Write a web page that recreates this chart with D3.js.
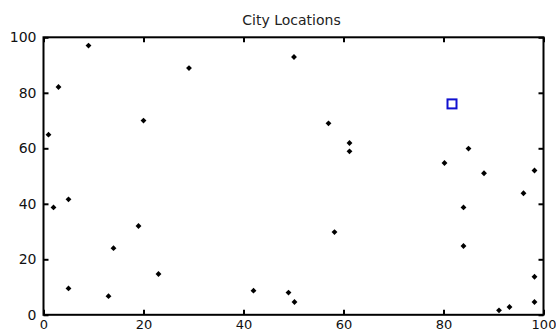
<!DOCTYPE html>
<html>
<head>
<meta charset="utf-8">
<script src="https://cdn.jsdelivr.net/npm/d3@7"></script>
<style>
  body { margin: 0; background: #fff; }
  text { font-family: "DejaVu Sans", sans-serif; }
</style>
</head>
<body>
<svg class="svg_cities" width="556" height="335"></svg>
<script>
// city coordinates
var cityX = [9, 3, 1, 20, 29.1, 50.1, 57, 61.2, 61.2, 80.2, 85, 98.2, 96, 88.1,
             84, 84, 58.2, 2, 5, 19, 14, 23, 5, 13, 42, 49, 50.2, 91.1, 93.2, 98.2, 98.2];
var cityY = [97, 82.1, 64.9, 70, 88.9, 92.9, 69, 61.9, 58.9, 54.7, 59.9, 52, 43.8, 51,
             38.7, 24.8, 29.8, 38.7, 41.6, 32, 24, 14.7, 9.5, 6.7, 8.7, 8, 4.6, 1.6, 2.8, 13.7, 4.6];
var startX = [81.7];
var startY = [76];
var tickVals = [0, 20, 40, 60, 80, 100];

var svg = d3.select(".svg_cities"),
    margin = {top: 37.3, right: 12.5, bottom: 20.2, left: 43.5},
    width = +svg.attr("width") - margin.left - margin.right,
    height = +svg.attr("height") - margin.top - margin.bottom,
    g = svg.append("g").attr("transform", "translate(" + margin.left + "," + margin.top + ")");

var x = d3.scaleLinear().domain([0, 100]).range([0, width]);
var y = d3.scaleLinear().domain([0, 100]).range([height, 0]);

// title
svg.append("text")
    .attr("x", margin.left + width / 2 - 2)
    .attr("y", 25)
    .attr("text-anchor", "middle")
    .style("font-size", "14px")
    .attr("fill", "#222")
    .text("City Locations");

// axes, ticks pointing inward on all four sides
function styleAxis(sel) {
    sel.select(".domain").remove();
    sel.selectAll(".tick line").attr("stroke", "#000").attr("stroke-width", 2);
    sel.selectAll(".tick text").style("font-size", "14px").attr("fill", "#111");
}

g.append("g")
    .attr("transform", "translate(0," + height + ")")
    .call(d3.axisBottom(x).tickValues(tickVals).tickSize(-5).tickPadding(5))
    .call(styleAxis)
    .selectAll(".tick text").style("font-size", "13px");

g.append("g")
    .call(d3.axisLeft(y).tickValues(tickVals).tickSize(-5).tickPadding(7))
    .call(styleAxis);

g.append("g")
    .call(d3.axisTop(x).tickValues(tickVals).tickSize(-5).tickFormat(""))
    .call(styleAxis);

g.append("g")
    .attr("transform", "translate(" + width + ",0)")
    .call(d3.axisRight(y).tickValues(tickVals).tickSize(-5).tickFormat(""))
    .call(styleAxis);

// frame
g.append("rect")
    .attr("x", 0).attr("y", 0)
    .attr("width", width).attr("height", height)
    .attr("fill", "none")
    .attr("stroke", "#000")
    .attr("stroke-width", 2);

// cities
var cities = cityX.map(function(d, i) { return {x: d, y: cityY[i]}; });
var dot = d3.symbol().type(d3.symbolSquare).size(17);

g.selectAll(".city")
    .data(cities)
  .enter().append("path")
    .attr("class", "city")
    .attr("d", dot)
    .attr("fill", "#000")
    .attr("transform", function(d) { return "translate(" + x(d.x) + "," + y(d.y) + ") rotate(45)"; });

// start marker
g.selectAll(".start")
    .data(startX.map(function(d, i) { return {x: d, y: startY[i]}; }))
  .enter().append("rect")
    .attr("class", "start")
    .attr("x", function(d) { return x(d.x) - 4.5; })
    .attr("y", function(d) { return y(d.y) - 4.5; })
    .attr("width", 9)
    .attr("height", 9)
    .attr("fill", "none")
    .attr("stroke", "#1010d0")
    .attr("stroke-width", 2);
</script>
</body>
</html>
